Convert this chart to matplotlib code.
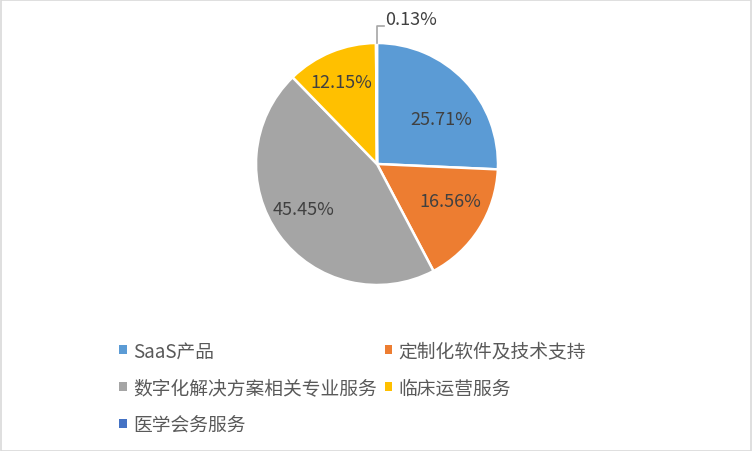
import matplotlib
matplotlib.use("Agg")
import matplotlib.pyplot as plt
import matplotlib.patches as mpatches
import numpy as np

plt.rcParams['font.family'] = ['Noto Sans CJK SC', 'DejaVu Sans']

categories = ["SaaS产品", "定制化软件及技术支持", "数字化解决方案相关专业服务", "临床运营服务", "医学会务服务"]
values = [25.71, 16.56, 45.45, 12.15, 0.13]
labels = ["25.71%", "16.56%", "45.45%", "12.15%", "0.13%"]
colors = ["#5B9BD5", "#ED7D31", "#A5A5A5", "#FFC000", "#4472C4"]
# label placement (style): radial distance and angular offset from wedge midpoint
label_dist = [0.645, 0.676, 0.709, 0.739, None]
label_dang = [-8.6, 5.5, -4.3, 1.1, 0]

W, H = 752, 452
fig = plt.figure(figsize=(W/100, H/100), dpi=100)
fig.patch.set_facecolor("white")
fig.add_artist(mpatches.Rectangle((0.5/W, 0.5/H), 1 - 1.5/W, 1 - 1.5/H, transform=fig.transFigure,
                                  fill=False, edgecolor="#D9D9D9", linewidth=1.2))

cx, cy, r = 377, 165, 121
ax = fig.add_axes([(cx - r)/W, (H - cy - r)/H, 2*r/W, 2*r/H])
wedges, _ = ax.pie(values, colors=colors, startangle=90, counterclock=False, radius=1,
                   wedgeprops=dict(edgecolor="white", linewidth=1.8))
ax.set_xlim(-1, 1)
ax.set_ylim(-1, 1)
ax.set_aspect("equal")
ax.axis("off")

for w, lab, d, da in zip(wedges, labels, label_dist, label_dang):
    ang = np.deg2rad((w.theta1 + w.theta2) / 2 + da)
    if d is not None:
        ax.text(d*np.cos(ang), d*np.sin(ang), lab, ha="center", va="center",
                fontsize=13, color="#404040")
    else:
        x0, y0 = np.cos(ang), np.sin(ang)
        ax.plot([x0, x0, x0 + 0.058], [y0, y0 + 0.14, y0 + 0.14], color="#A6A6A6", lw=1.2,
                clip_on=False)
        ax.text(x0 + 0.075, y0 + 0.2, lab, ha="left", va="center", fontsize=13,
                color="#404040", clip_on=False)

handles = [mpatches.Patch(facecolor=c, edgecolor="none") for c in colors]
order = [0, 2, 4, 1, 3]  # row-major filling with 2 columns
fig.legend([handles[i] for i in order], [categories[i] for i in order], ncol=2,
           loc="upper left", bbox_to_anchor=(110/W, 1 - 332/H),
           frameon=False, fontsize=13.5, handlelength=0.4, handleheight=0.4,
           handletextpad=0.35, columnspacing=0.4, labelspacing=0.85, borderpad=0,
           labelcolor="#595959")

fig.savefig("out.png", dpi=100, facecolor="white")
